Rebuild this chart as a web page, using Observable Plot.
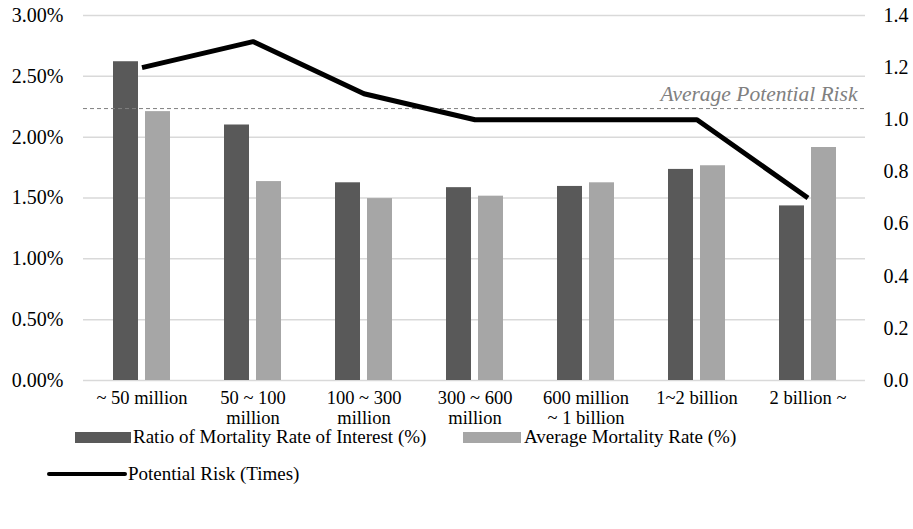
<!DOCTYPE html>
<html>
<head>
<meta charset="utf-8">
<script src="https://cdn.jsdelivr.net/npm/d3@7"></script>
<script src="https://cdn.jsdelivr.net/npm/@observablehq/plot@0.6"></script>
<style>
  body { margin: 0; background: #fff; font-family: 'Liberation Serif', Tinos, 'Times New Roman', Times, 'DejaVu Serif', serif; }
  #chart { width: 913px; }
  #chart svg, #chart svg text { font-family: 'Liberation Serif', Tinos, 'Times New Roman', Times, 'DejaVu Serif', serif !important; }
  .legend { font-size: 19px; color: #000; position: relative; height: 99px; }
  .item { position: absolute; height: 22px; line-height: 22px; white-space: nowrap; }
  .sw { position: absolute; height: 11px; }
  .ln { position: absolute; height: 4px; background: #000; border-radius: 2px; }
</style>
</head>
<body>
<div id="chart"></div>
<script>
const categories = ["~ 50 million", "50 ~ 100\nmillion", "100 ~ 300\nmillion", "300 ~ 600\nmillion", "600 million\n~ 1 billion", "1~2 billion", "2 billion ~"];
const interestRate = [2.62, 2.10, 1.625, 1.585, 1.595, 1.735, 1.435];
const averageRate = [2.21, 1.635, 1.495, 1.515, 1.625, 1.765, 1.915];
const potentialRisk = [1.2, 1.3, 1.1, 1.0, 1.0, 1.0, 0.7];
const averagePotentialRisk = 1.043;
const leftTicks = [0, 0.5, 1.0, 1.5, 2.0, 2.5, 3.0];
const rightTicks = [0, 0.2, 0.4, 0.6, 0.8, 1.0, 1.2, 1.4];

const k = 3 / 1.4; // right axis (0–1.4) mapped onto left axis (0–3%)
const rows = categories.map((c, i) => ({ c, a: interestRate[i], b: averageRate[i], r: potentialRisk[i] }));

const plot = Plot.plot({
  width: 913,
  height: 430,
  marginLeft: 83,
  marginRight: 48,
  marginTop: 15,
  marginBottom: 50,
  style: { fontSize: "18px", color: "#000", background: "#fff" },
  x: { type: "band", domain: categories, paddingInner: 0.49, paddingOuter: 0.245, label: null },
  y: { domain: [0, 3], label: null },
  marks: [
    Plot.ruleY(leftTicks, { stroke: "#d9d9d9", strokeWidth: 1.5 }),
    Plot.axisY(leftTicks, { anchor: "left", tickSize: 0, tickPadding: 20, tickFormat: d => d.toFixed(2) + "%", fontSize: 20, label: null }),
    Plot.axisY(rightTicks.map(v => v * k), { anchor: "right", tickSize: 0, tickPadding: 18, tickFormat: d => (d / k).toFixed(1), fontSize: 20, label: null }),
    Plot.axisX({ tickSize: 0, tickPadding: 9, fontSize: 18.5, lineHeight: 1.08, label: null }),
    Plot.barY(rows, { x: "c", y: "a", fill: "#595959", insetRight: 32 }),
    Plot.barY(rows, { x: "c", y: "b", fill: "#a6a6a6", insetLeft: 32 }),
    Plot.ruleY([averagePotentialRisk * k], { stroke: "#808080", strokeWidth: 1, strokeDasharray: "4,3" }),
    Plot.text([averagePotentialRisk * k], { y: d => d, frameAnchor: "right", textAnchor: "end", dx: -8, dy: -14, text: () => "Average Potential Risk", fontStyle: "italic", fill: "#808080", fontSize: 21.5 }),
    Plot.line(rows, { x: "c", y: d => d.r * k, stroke: "#000", strokeWidth: 5, strokeLinecap: "butt", strokeLinejoin: "miter" })
  ]
});
document.getElementById("chart").appendChild(plot);

const legend = document.createElement("div");
legend.className = "legend";
legend.innerHTML = `
  <span class="sw" style="left:75px; top:2px; width:56px; background:#595959"></span>
  <span class="item" style="left:133px; top:-4px;">Ratio of Mortality Rate of Interest (%)</span>
  <span class="sw" style="left:463px; top:2px; width:58px; background:#a6a6a6"></span>
  <span class="item" style="left:524px; top:-4px;">Average Mortality Rate (%)</span>
  <span class="ln" style="left:47px; top:42px; width:80px;"></span>
  <span class="item" style="left:128px; top:33px;">Potential Risk (Times)</span>`;
document.getElementById("chart").appendChild(legend);
</script>
</body>
</html>
